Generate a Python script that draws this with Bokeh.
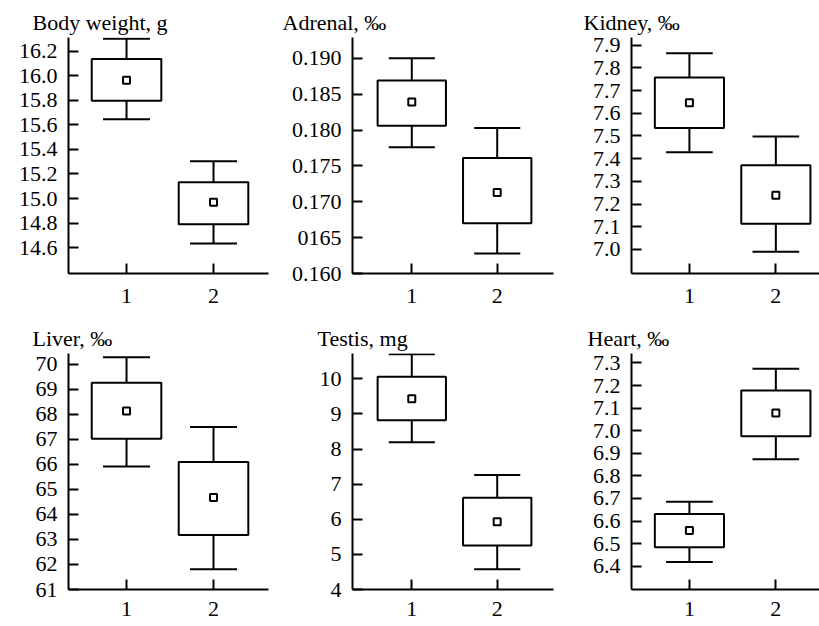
from bokeh.plotting import figure
from bokeh.layouts import column, row
from bokeh.models import ColumnDataSource, Range1d, FixedTicker
from bokeh.embed import file_html
from bokeh.resources import INLINE

# ---------------- data ----------------
groups = [1, 2]
group_labels = ["1", "2"]

# per group: [lower whisker, Q1, mean, Q3, upper whisker]
body_g1 = [15.645, 15.796, 15.963, 16.135, 16.300]
body_g2 = [14.635, 14.790, 14.970, 15.133, 15.303]
adrenal_g1 = [0.1776, 0.1806, 0.1839, 0.1869, 0.1900]
adrenal_g2 = [0.1628, 0.1670, 0.1713, 0.1761, 0.1803]
kidney_g1 = [7.428, 7.535, 7.647, 7.758, 7.865]
kidney_g2 = [6.990, 7.113, 7.239, 7.371, 7.498]
liver_g1 = [65.91, 67.02, 68.13, 69.26, 70.28]
liver_g2 = [61.81, 63.18, 64.68, 66.09, 67.49]
testis_g1 = [8.19, 8.82, 9.43, 10.06, 10.70]
testis_g2 = [4.58, 5.25, 5.93, 6.61, 7.26]
heart_g1 = [6.419, 6.484, 6.558, 6.631, 6.686]
heart_g2 = [6.874, 6.976, 7.079, 7.178, 7.275]

titles = ["Body weight, g", "Adrenal, ‰", "Kidney, ‰", "Liver, ‰", "Testis, mg", "Heart, ‰"]

body_ticks = [14.6, 14.8, 15.0, 15.2, 15.4, 15.6, 15.8, 16.0, 16.2]
body_tick_labels = ["14.6", "14.8", "15.0", "15.2", "15.4", "15.6", "15.8", "16.0", "16.2"]
adrenal_ticks = [0.160, 0.165, 0.170, 0.175, 0.180, 0.185, 0.190]
adrenal_tick_labels = ["0.160", "0165", "0.170", "0.175", "0.180", "0.185", "0.190"]
kidney_ticks = [7.0, 7.1, 7.2, 7.3, 7.4, 7.5, 7.6, 7.7, 7.8, 7.9]
kidney_tick_labels = ["7.0", "7.1", "7.2", "7.3", "7.4", "7.5", "7.6", "7.7", "7.8", "7.9"]
liver_ticks = [61, 62, 63, 64, 65, 66, 67, 68, 69, 70]
liver_tick_labels = ["61", "62", "63", "64", "65", "66", "67", "68", "69", "70"]
testis_ticks = [4, 5, 6, 7, 8, 9, 10]
testis_tick_labels = ["4", "5", "6", "7", "8", "9", "10"]
heart_ticks = [6.4, 6.5, 6.6, 6.7, 6.8, 6.9, 7.0, 7.1, 7.2, 7.3]
heart_tick_labels = ["6.4", "6.5", "6.6", "6.7", "6.8", "6.9", "7.0", "7.1", "7.2", "7.3"]

# axis limits
body_ylim = (14.39, 16.31)
adrenal_ylim = (0.160, 0.1929)
kidney_ylim = (6.894, 7.934)
liver_ylim = (61.0, 70.43)
testis_ylim = (4.0, 10.72)
heart_ylim = (6.297, 7.342)
col_xlims = [(0.333, 2.632), (0.306, 2.659), (0.330, 2.505)]

# ---------------- style ----------------
FONT = "Liberation Serif"
FS = "22px"
BOX_W = 0.8
CAP_HALF = 0.27
col_geom = [  # width, min_border_left, min_border_right
    (270, 68, 2),
    (285, 82, 2),
    (264, 76, 0),
]


def make_panel(title, g1, g2, ticks, tick_labels, ylim, col, height, mbt, mbb,
               title_dx, title_standoff, x_standoff):
    width, mbl, mbr = col_geom[col]
    p = figure(width=width, height=height,
               x_range=Range1d(*col_xlims[col]), y_range=Range1d(*ylim),
               output_backend="svg", toolbar_location=None,
               min_border_left=mbl, min_border_right=mbr,
               min_border_top=mbt, min_border_bottom=mbb,
               outline_line_color=None, background_fill_color="white",
               border_fill_color="white")
    p.grid.visible = False

    stats = [g1, g2]
    src = ColumnDataSource(dict(
        x=groups,
        low=[s[0] for s in stats],
        q1=[s[1] for s in stats],
        mean=[s[2] for s in stats],
        q3=[s[3] for s in stats],
        high=[s[4] for s in stats],
        cl=[g - CAP_HALF for g in groups],
        cr=[g + CAP_HALF for g in groups],
    ))
    lw = 2
    p.segment(x0="x", y0="q3", x1="x", y1="high", source=src, line_color="black", line_width=lw)
    p.segment(x0="x", y0="low", x1="x", y1="q1", source=src, line_color="black", line_width=lw)
    p.segment(x0="cl", y0="high", x1="cr", y1="high", source=src, line_color="black", line_width=lw)
    p.segment(x0="cl", y0="low", x1="cr", y1="low", source=src, line_color="black", line_width=lw)
    p.vbar(x="x", width=BOX_W, bottom="q1", top="q3", source=src,
           fill_color=None, line_color="black", line_width=lw)
    p.scatter(x="x", y="mean", source=src, marker="square", size=7,
              fill_color="white", line_color="black", line_width=2)

    xa = p.xaxis[0]
    ya = p.yaxis[0]
    xa.ticker = FixedTicker(ticks=groups)
    xa.major_label_overrides = dict(zip(groups, group_labels))
    xa.major_label_standoff = x_standoff
    ya.ticker = FixedTicker(ticks=ticks)
    ya.major_label_overrides = dict(zip(ticks, tick_labels))
    ya.major_label_standoff = 11
    for ax in (xa, ya):
        ax.axis_line_color = "black"
        ax.axis_line_width = 2
        ax.major_tick_line_color = "black"
        ax.major_tick_line_width = 2
        ax.major_tick_in = 10
        ax.major_tick_out = 0
        ax.minor_tick_line_color = None
        ax.major_label_text_font = FONT
        ax.major_label_text_font_size = FS
        ax.major_label_text_color = "black"

    p.title.text = title
    p.title.align = "left"
    p.title.offset = -title_dx
    p.title.standoff = title_standoff
    p.title.text_font = FONT
    p.title.text_font_size = FS
    p.title.text_font_style = "normal"
    p.title.text_color = "black"
    return p


H1, H2 = 318, 308
p1 = make_panel(titles[0], body_g1, body_g2, body_ticks, body_tick_labels, body_ylim, 0, H1, 37, 45, 36, 6, 15)
p2 = make_panel(titles[1], adrenal_g1, adrenal_g2, adrenal_ticks, adrenal_tick_labels, adrenal_ylim, 1, H1, 37, 45, 70, 6, 15)
p3 = make_panel(titles[2], kidney_g1, kidney_g2, kidney_ticks, kidney_tick_labels, kidney_ylim, 2, H1, 37, 45, 48, 6, 15)
p4 = make_panel(titles[3], liver_g1, liver_g2, liver_ticks, liver_tick_labels, liver_ylim, 0, H2, 35, 37, 36, 6, 12)
p5 = make_panel(titles[4], testis_g1, testis_g2, testis_ticks, testis_tick_labels, testis_ylim, 1, H2, 35, 37, 35, 6, 12)
p6 = make_panel(titles[5], heart_g1, heart_g2, heart_ticks, heart_tick_labels, heart_ylim, 2, H2, 35, 37, 44, 6, 12)

layout = column(row(p1, p2, p3), row(p4, p5, p6))
open("out.html", "w").write(file_html(layout, INLINE))
